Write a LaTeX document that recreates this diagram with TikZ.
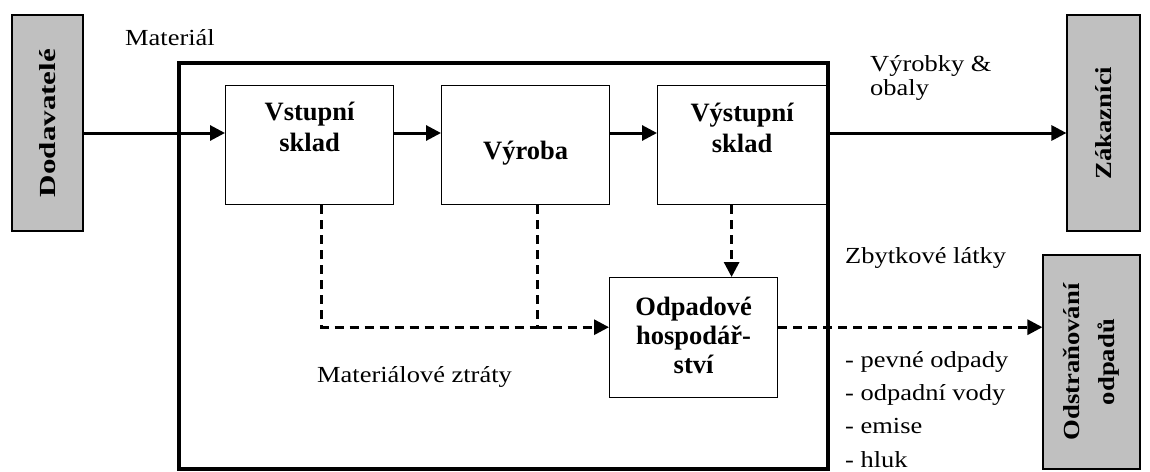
\documentclass[tikz,border=0pt]{standalone}
\usepackage{fontspec}
\setmainfont{Liberation Serif}
\newfontfamily\lblfont{Liberation Serif}[FakeStretch=1.15]
\newfontfamily\sidefont{Liberation Serif}[FakeStretch=1.16]
\newfontfamily\widesidefont{Liberation Serif}[FakeStretch=1.35]
\usetikzlibrary{arrows.meta,calc}
\begin{document}
\begin{tikzpicture}[x=1pt,y=-1pt,
  sidebox/.style={draw=black, line width=1.2pt, fill=sidegray, inner sep=0pt, rotate=90, align=center,
    font=\sidefont\bfseries\fontsize{23}{35}\selectfont},
  stagebox/.style={draw=black, line width=1.2pt, fill=white, inner sep=0pt, anchor=north west},
  systembox/.style={draw=black, line width=4pt, inner sep=0pt, anchor=north west},
  boxtext/.style={font=\bfseries\fontsize{26.5}{31}\selectfont, inner sep=0pt, align=center},
  lbl/.style={font=\lblfont\fontsize{23}{33.3}\selectfont, inner sep=0pt},
  flowarrow/.style={line width=3pt, -{Triangle[length=15pt,width=15pt]}},
  lossline/.style={line width=3pt, dash pattern=on 9pt off 6pt},
  lossarrow/.style={lossline, -{Triangle[length=15pt,width=15pt]}}
]
\definecolor{sidegray}{RGB}{192,192,192}
\useasboundingbox (0,0) rectangle (1150,471);

% outer partners
\node[sidebox, minimum width=216pt, minimum height=71pt] (dod) at (47.5,123)
  {\widesidefont\bfseries Dodavatelé};
\node[sidebox, minimum width=216pt, minimum height=73pt] (zak) at (1103.5,123) {Zákazníci};
\node[sidebox, minimum width=214pt, minimum height=97pt] (odw) at (1091.5,362)
  {Odstraňování\\odpadů};

% company boundary and internal stages
\node[systembox, minimum width=649pt, minimum height=406pt] (sys) at (177,61) {};
\node[stagebox, minimum width=168pt, minimum height=119pt] (vst) at (225,85) {};
\node[stagebox, minimum width=168pt, minimum height=119pt] (vyr) at (441,85) {};
\node[stagebox, minimum width=169pt, minimum height=119pt] (vys) at (657,85) {};
\node[stagebox, minimum width=168pt, minimum height=120pt] (odp) at (609,277) {};

% stage captions (base = baseline of the last line)
\node[boxtext, anchor=base] (tvst) at ([yshift=-66pt]vst.north) {Vstupní\\sklad};
\node[boxtext, anchor=base] (tvyr) at ([yshift=-74pt]vyr.north) {Výroba};
\node[boxtext, anchor=base] (tvys) at ([yshift=-67pt]vys.north) {Výstupní\\sklad};
\node[boxtext, anchor=base, font=\bfseries\fontsize{26.5}{29}\selectfont] (todp)
  at ([yshift=-96pt]odp.north) {Odpadové\\hospodář-\\ství};

% material flow
\coordinate (flow) at (0,133);
\draw[flowarrow] (dod.south |- flow) -- (vst.west |- flow);
\draw[flowarrow] (vst.east |- flow) -- (vyr.west |- flow);
\draw[flowarrow] (vyr.east |- flow) -- (vys.west |- flow);
\draw[flowarrow] (vys.east |- flow) -- (zak.north |- flow);

% losses and residues
\coordinate (lossjoin) at ([xshift=12pt,yshift=-122pt]vyr.south);
\draw[lossline] ([xshift=12pt]vst.south) |- (lossjoin);
\draw[lossline] ([xshift=12pt]vyr.south) -- (lossjoin);
\draw[lossarrow] (lossjoin) -- (lossjoin -| odp.west);
\draw[lossarrow] ([xshift=-10.5pt]vys.south) -- ([xshift=-10.5pt]vys.south |- odp.north);
\draw[lossarrow] (lossjoin -| odp.east) -- (lossjoin -| odw.north);

% labels
\node[lbl, anchor=base] (tmat) at (170,45) {Materiál};
\node[lbl, anchor=base west, align=left, font=\lblfont\fontsize{23}{24}\selectfont] (tprod)
  at (870,95) {Výrobky \&\\obaly};
\node[lbl, anchor=base west] (tzbyt) at (845,263) {Zbytkové látky};
\node[lbl, anchor=base west, align=left] (tlist) at (845,467)
  {- pevné odpady\\- odpadní vody\\- emise\\- hluk};
\node[lbl, anchor=base] (tztr) at (414.5,382) {Materiálové ztráty};
\end{tikzpicture}
\end{document}
